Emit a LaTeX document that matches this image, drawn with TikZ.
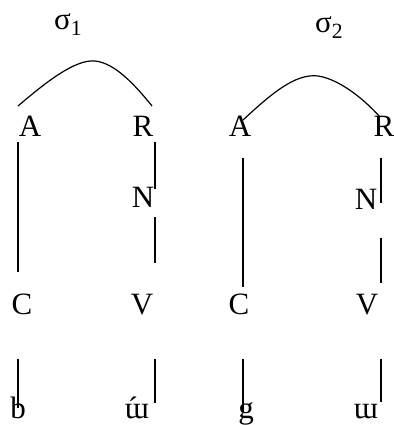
\documentclass[tikz,border=0pt]{standalone}
\usepackage{fontspec}
\setmainfont{Liberation Serif}

\begin{document}
\begin{tikzpicture}[x=1pt,y=1pt]
\tikzstyle{every node}=[inner sep=0pt,anchor=base,font=\fontsize{31}{33}\selectfont];
\tikzstyle{arc}=[line width=1.2pt];
\tikzstyle{bar}=[line width=1.2pt];
\useasboundingbox (0,0) rectangle (393,425);
\node[anchor=base west] (s1) at (54,395) {σ\textsubscript{1}};
\node[anchor=base west] (s2) at (315,392) {σ\textsubscript{2}};
\node (A1) at (30,288) {A};
\node (R1) at (143,288) {R};
\node (N1) at (143,217) {N};
\node (C1) at (22,110) {C};
\node (V1) at (142,110) {V};
\node (b) at (18,6) {b};
\node (u1) at (137,6) {ɯ\llap{´\kern11pt}};
\node (A2) at (240,288) {A};
\node (R2) at (384,288) {R};
\node (N2) at (366,215) {N};
\node (C2) at (239,110) {C};
\node (V2) at (367,110) {V};
\node (g) at (246,6) {g};
\node (u2) at (366,6) {ɯ};
\draw[arc] ([shift={(-12,31)}]A1.base) .. controls (45,342) and (75,366) .. (95,364)
	.. controls (115,362) and (135,340) .. ([shift={(9,31)}]R1.base);
\draw[arc] ([shift={(3,17)}]A2.base) .. controls (270,330) and (295,352) .. (318,349)
	.. controls (338,346) and (362,328) .. ([shift={(-4,20)}]R2.base);
\draw[bar,shorten <=5pt,shorten >=22pt] ([xshift=-12pt]A1.south) -- ([xshift=-12pt]A1.south |- C1.north);
\draw[bar,shorten <=5pt,shorten >=-2pt] ([xshift=12pt]R1.south) -- ([xshift=12pt]R1.south |- N1.north);
\draw[bar,shorten <=9pt,shorten >=31pt] ([xshift=12pt]N1.south) -- ([xshift=12pt]N1.south |- V1.north);
\draw[bar,shorten <=43pt,shorten >=11pt] ([xshift=-4pt]C1.south) -- ([xshift=-4pt]C1.south |- b.base);
\draw[bar,shorten <=43pt,shorten >=16pt] ([xshift=13pt]V1.south) -- ([xshift=13pt]V1.south |- u1.base);
\draw[bar,shorten <=21pt,shorten >=7pt] ([xshift=3pt]A2.south) -- ([xshift=3pt]A2.south |- C2.north);
\draw[bar,shorten <=21pt,shorten >=7pt] ([xshift=-3pt]R2.south) -- ([xshift=-3pt]R2.south |- N2.base);
\draw[bar,shorten <=28pt,shorten >=11pt] ([xshift=15pt]N2.south) -- ([xshift=15pt]N2.south |- V2.north);
\draw[bar,shorten <=43pt,shorten >=7pt] ([xshift=4pt]C2.south) -- ([xshift=4pt]C2.south |- g.base);
\draw[bar,shorten <=43pt,shorten >=17pt] ([xshift=14pt]V2.south) -- ([xshift=14pt]V2.south |- u2.base);
\end{tikzpicture}
\end{document}
